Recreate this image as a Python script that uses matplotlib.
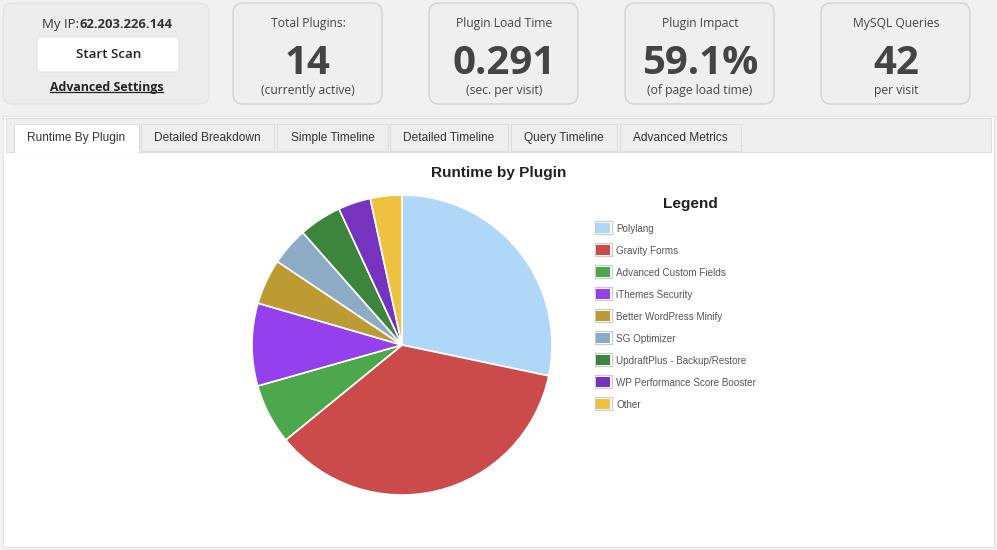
import matplotlib
matplotlib.use('Agg')
import matplotlib.pyplot as plt
from matplotlib.patches import FancyBboxPatch, Rectangle

W, H = 997, 550

# values (percent of runtime)
plugins = ['Polylang', 'Gravity Forms', 'Advanced Custom Fields', 'iThemes Security',
           'Better WordPress Minify', 'SG Optimizer', 'UpdraftPlus - Backup/Restore',
           'WP Performance Score Booster', 'Other']
runtime = [28.3, 35.8, 6.5, 8.9, 4.9, 4.1, 4.6, 3.5, 3.4]
colors = ['#afd8f8', '#cb4b4b', '#4da74d', '#9440ed', '#bd9b33',
          '#8cacc6', '#3d853d', '#7633bd', '#edc240']

tabs = ['Runtime By Plugin', 'Detailed Breakdown', 'Simple Timeline',
        'Detailed Timeline', 'Query Timeline', 'Advanced Metrics']
tab_edges = [(14, 139), (141, 274), (277, 388), (390, 508), (511, 617), (620, 741)]

stat_titles = ['Total Plugins:', 'Plugin Load Time', 'Plugin Impact', 'MySQL Queries']
stat_values = ['14', '0.291', '59.1%', '42']
stat_notes = ['(currently active)', '(sec. per visit)', '(of page load time)', 'per visit']
stat_left = [233, 429, 625, 821]

OPEN = 'Open Sans'
ARIAL = 'Liberation Sans'
DARK = '#444444'


def card(ax, x0, y0, x1, y1, fc, ec, r=10, lw=0.8):
    box = FancyBboxPatch((x0 + r, y0 + r), x1 - x0 - 2 * r, y1 - y0 - 2 * r,
                         boxstyle=f'round,pad={r},rounding_size={r}',
                         fc=fc, ec=ec, lw=lw)
    ax.add_patch(box)


fig = plt.figure(figsize=(W / 100, H / 100), dpi=100, facecolor='#f1f1f1')

# whole figure as a pixel canvas for the page furniture
bg = fig.add_axes([0, 0, 1, 1])
bg.set_xlim(0, W)
bg.set_ylim(H, 0)
bg.axis('off')

# scan box
card(bg, 3, 3, 209, 104, '#ececec', '#e0e0e0')
bg.text(42, 28, 'My IP:', fontsize=9.5, family=OPEN, color='#333333')
bg.text(79, 28, '62.203.226.144', fontsize=9.4, family=OPEN, weight='bold', color='#333333')
card(bg, 37, 37, 179, 72, 'white', '#e2e2e2', r=3)
bg.text(109, 58, 'Start Scan', fontsize=9.6, family=OPEN, weight='semibold',
        color='#222222', ha='center')
bg.text(106.5, 91, 'Advanced Settings', fontsize=8.9, family=OPEN, weight='bold',
        color='#222222', ha='center')
bg.plot([50, 163], [91.5, 91.5], color='#222222', lw=0.9)

# stat cards
for x, title, value, note in zip(stat_left, stat_titles, stat_values, stat_notes):
    card(bg, x, 3, x + 149, 104, '#efefef', '#cccccc')
    bg.text(x + 75, 27, title, fontsize=8.7, family=OPEN, color=DARK, ha='center')
    bg.text(x + 75, 74, value, fontsize=29, family=OPEN, weight='bold', color=DARK, ha='center')
    bg.text(x + 75, 94, note, fontsize=8.7, family=OPEN, color=DARK, ha='center')

# tab panel
bg.add_patch(Rectangle((3, 116), 991, 431, fc='white', ec='#e2e2e2', lw=0.8))
bg.add_patch(Rectangle((6, 118), 985, 34, fc='#efefef', ec='#dddddd', lw=0.8))
for i, (name, (x0, x1)) in enumerate(zip(tabs, tab_edges)):
    active = i == 0
    bg.add_patch(Rectangle((x0, 124), x1 - x0, 28 if active else 27,
                           fc='white' if active else '#eeeeee', ec='#dddddd', lw=0.8))
    bg.text((x0 + x1) / 2, 141, name, fontsize=8.6, family=ARIAL, color='#333333', ha='center')
bg.add_patch(Rectangle((15, 150), 123, 3, fc='white', ec='none'))

bg.text(499, 177, 'Runtime by Plugin', fontsize=11.1, family=ARIAL, weight='bold',
        color='#222222', ha='center')

# pie
pie_ax = fig.add_axes([252 / W, 1 - 495 / H, 300 / W, 300 / H])
pie_ax.pie(runtime, colors=colors, startangle=90, counterclock=False, radius=1,
           wedgeprops={'edgecolor': 'white', 'linewidth': 1.2})
pie_ax.set_xlim(-1, 1)
pie_ax.set_ylim(-1, 1)

# legend
bg.text(690.5, 208, 'Legend', fontsize=11.1, family=ARIAL, weight='bold',
        color='#222222', ha='center')
for i, (name, col) in enumerate(zip(plugins, colors)):
    y = 227.5 + i * 22
    bg.add_patch(Rectangle((594.5, y - 6.5), 17, 13, fc='white', ec='#cccccc', lw=0.9))
    bg.add_patch(Rectangle((596, y - 5), 14, 10, fc=col, ec='none'))
    bg.text(616, y + 4.5, name, fontsize=7.15, family=ARIAL, color='#545454')

fig.savefig('out.png', dpi=100, facecolor=fig.get_facecolor())
